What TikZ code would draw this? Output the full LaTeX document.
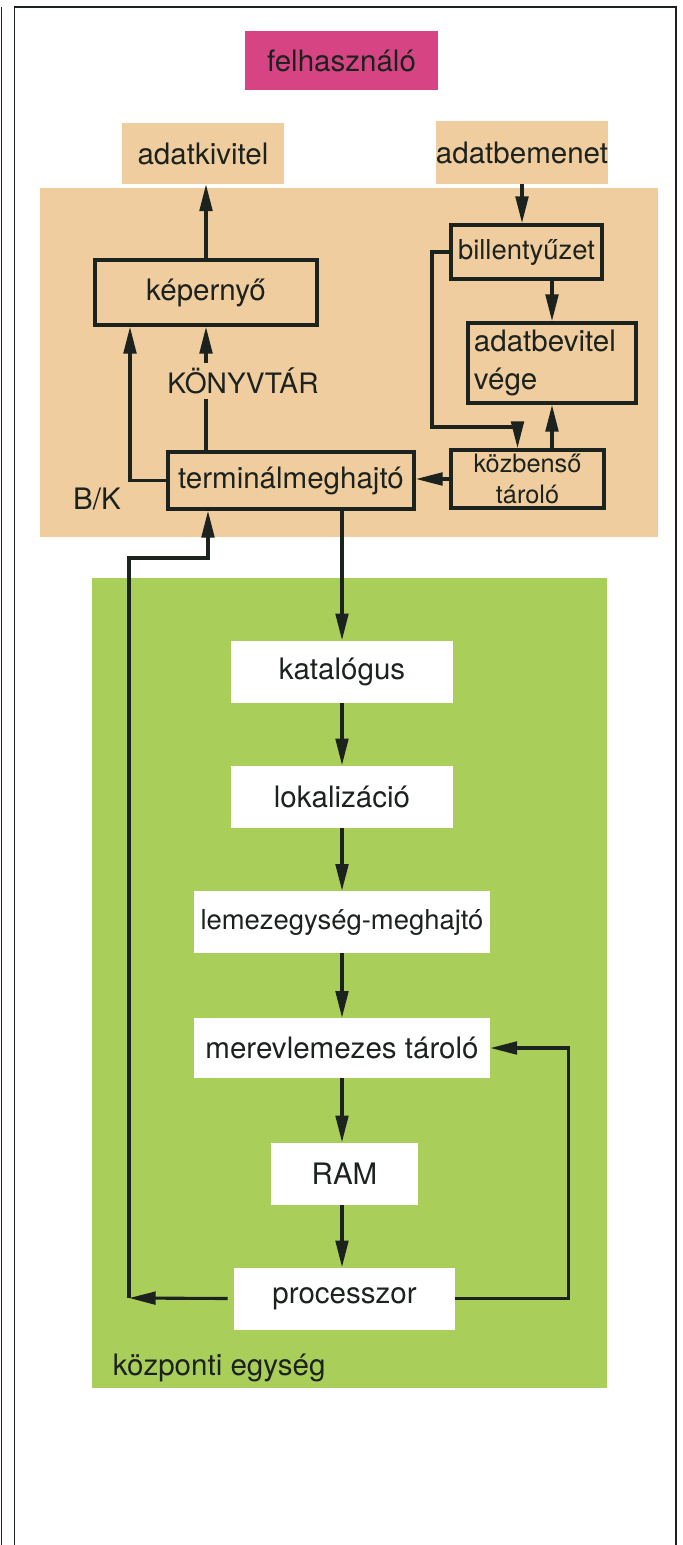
\documentclass[tikz,border=0pt]{standalone}
\usepackage{fontspec}
\setmainfont{TeX Gyre Heros}
\usetikzlibrary{positioning,arrows.meta}

\definecolor{ink}{RGB}{28,34,30}
\definecolor{bkbeige}{RGB}{240,205,158}
\definecolor{cpugreen}{RGB}{170,206,90}
\definecolor{userpink}{RGB}{214,68,132}

\tikzset{
  io/.style={draw=ink, line width=2.6pt, fill=bkbeige, inner sep=0pt},
  cpu/.style={fill=white, inner sep=0pt, minimum height=1.55cm},
  tag/.style={fill=bkbeige, inner sep=0pt, minimum height=1.55cm},
  flow/.style={draw=ink, line width=2.2pt, -{Triangle[length=19pt,width=9pt]}},
  frame/.style={draw=ink, line width=1.4pt}
}

\begin{document}
\begin{tikzpicture}[x=0.025cm, y=-0.025cm, text=ink,
    font=\fontsize{21}{24}\selectfont]
  \useasboundingbox (0,0) rectangle (683,1545);

  % page frame
  \draw[frame] (1.5,7) -- (1.5,1545);
  \draw[frame] (14.5,1545) -- (14.5,7) -- (676,7) -- (676,1545);

  % backgrounds
  \fill[bkbeige] (40,188) rectangle (658,537);
  \fill[cpugreen] (92,578) rectangle (607,1388);

  % user side
  \node[fill=userpink, minimum width=4.825cm, minimum height=1.475cm] (user) at (341.5,60.5) {felhasználó};
  \node[tag, minimum width=4.05cm, minimum height=1.525cm] (adatki) at (203,153.5) {adatkivitel};
  \node[tag, minimum width=4.1cm, minimum height=1.575cm] (adatbe) at (522,152.5) {adatbemenet};

  % B/K
  \node[io, minimum width=5.55cm, minimum height=1.625cm] (kep) at (206,292.5) {képernyő};
  \node[io, minimum width=6.15cm, minimum height=1.425cm] (term) at (291,480.5) {terminálmeghajtó};
  \node[io, minimum width=3.775cm, minimum height=1.35cm,
        font=\fontsize{19.5}{22}\selectfont] (bill) at (526.5,252) {billentyűzet};
  \node[io, minimum width=4.2cm, minimum height=2cm, align=left, text width=3.9cm,
        font=\fontsize{21}{27}\selectfont] (bevitel) at (552,363) {adatbevitel\\vége};
  \node[io, minimum width=3.825cm, minimum height=1.45cm, align=center,
        font=\fontsize{18}{22}\selectfont] (kozb) at (527.5,479) {közbenső\\tároló};
  \node[font=\fontsize{20}{22}\selectfont] (konyvtar) at (243,381) {KÖNYVTÁR};
  \node (bk) at (97,499) {B/K};

  % központi egység
  \node[cpu, minimum width=5.55cm] (katalog) at (342,671.5) {katalógus};
  \node[cpu, minimum width=5.55cm] (lokal) at (342,796.5) {lokalizáció};
  \node[cpu, minimum width=7.375cm, font=\fontsize{19.5}{22}\selectfont] (lemez) at (342,922) {lemezegység-meghajtó};
  \node[cpu, minimum width=7.4cm, minimum height=1.5cm] (merev) at (342,1048) {merevlemezes tároló};
  \node[cpu, minimum width=3.675cm] (ram) at (344.5,1173.5) {RAM};
  \node[cpu, minimum width=5.525cm] (proc) at (344.5,1298.5) {processzor};
  \node[anchor=west] (kozpont) at (108,1368) {központi egység};

  % input side
  \draw[flow] (adatbe.south) -- (adatbe.south |- bill.north);
  \draw[flow] (bill.south -| bevitel.north) -- (bevitel.north);
  \draw[flow] (kozb.north -| bevitel.south) -- (bevitel.south);
  \draw[flow] (bill.west) -| (432,427) -| ([xshift=-0.25cm]kozb.north);
  \draw[flow] (kozb.west) -- (kozb.west -| term.east);

  % output side
  \draw[flow] (term.west) -| ([xshift=-1.9cm]kep.south);
  \draw[draw=ink, line width=2.2pt] (kep.south |- term.north) -- (kep.south |- konyvtar.south);
  \draw[flow] (kep.south |- konyvtar.north) -- (kep.south);
  \draw[flow] (kep.north) -- (kep.north |- adatki.south);

  % down through the central unit
  \draw[flow] (katalog.north |- term.south) -- (katalog.north);
  \draw[flow] (katalog.south) -- (lokal.north);
  \draw[flow] (lokal.south) -- (lemez.north);
  \draw[flow] (lemez.south) -- (merev.north);
  \draw[flow] (merev.south) -- (merev.south |- ram.north);
  \draw[flow] (merev.south |- ram.south) -- (merev.south |- proc.north);

  % back from the processor
  \coordinate (ret) at (129,1298);
  \draw[flow] ([xshift=-0.15cm]proc.west) -- (ret);
  \draw[flow] (ret) -- (129,558) -| ([xshift=-2.075cm]term.south);
  \draw[flow] (proc.east) -- ++(113,0) |- (merev.east);
\end{tikzpicture}
\end{document}
